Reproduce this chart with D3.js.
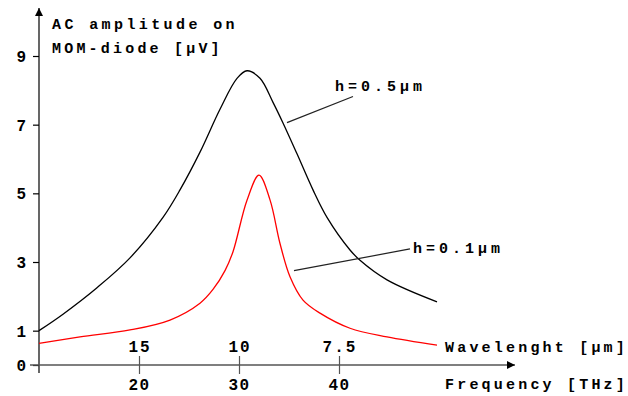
<!DOCTYPE html>
<html>
<head>
<meta charset="utf-8">
<script src="https://cdn.jsdelivr.net/npm/d3@7"></script>
<style>
	body { margin: 0; background: #fff; }
	svg text { font-family: "Liberation Mono", "Courier New", monospace; font-weight: bold; fill: #000; }
</style>
</head>
<body>
<svg id="chart"></svg>
<script>
// frequency [THz] and amplitude [uV]
var freqH05 = [10, 12.4, 15.8, 19.1, 22.4, 24.1, 26.1, 28.1, 29.8, 30.8, 32.1, 33.4, 34.4, 35.8, 37.4, 38.8, 41.1, 42.1, 44.8, 49.8];
var ampH05  = [1.0, 1.48, 2.25, 3.12, 4.3, 5.1, 6.2, 7.45, 8.35, 8.57, 8.35, 7.65, 7.05, 6.15, 5.1, 4.3, 3.35, 3.05, 2.48, 1.84];

var freqH01 = [10, 14.1, 19.1, 23.1, 26.1, 27.4, 28.6, 29.4, 30.8, 32.0, 33.1, 34.1, 35.1, 36.4, 38.1, 41.1, 44.8, 49.8];
var ampH01  = [0.63, 0.82, 1.02, 1.31, 1.8, 2.2, 2.75, 3.3, 4.8, 5.53, 4.81, 3.54, 2.57, 1.89, 1.51, 1.07, 0.82, 0.58];

var yTicks = [0, 1, 3, 5, 7, 9];
var freqTicks = [20, 30, 40];
var waveTicks = ["15", "10", "7.5"];

var labels = [
	{text: "h=0.5\u00b5m", tx: 39.6, ty: 7.98, x1: 41.4, y1: 7.82, x2: 34.8, y2: 7.06},
	{text: "h=0.1\u00b5m", tx: 47.4, ty: 3.26, x1: 47.1, y1: 3.38, x2: 35.5, y2: 2.75}
];

function Chart(){
	this.width = 628;
	this.height = 396;
	this.draw();
}

Chart.prototype.draw = function(){
	var width = this.width,
		height = this.height;

	var svg = d3.select("#chart")
		.attr("width", width)
		.attr("height", height);

	var x = d3.scaleLinear().domain([10, 57.6]).range([39, 515]);
	var y = d3.scaleLinear().domain([0, 9]).range([365, 56]);

	// arrow heads
	var defs = svg.append("defs");
	defs.append("marker")
		.attr("id", "arrow")
		.attr("viewBox", "0 0 10 10")
		.attr("refX", 10).attr("refY", 5)
		.attr("markerWidth", 10).attr("markerHeight", 8)
		.attr("markerUnits", "userSpaceOnUse")
		.attr("orient", "auto")
		.append("path")
			.attr("d", "M0,0 L10,5 L0,10 Z")
			.attr("fill", "#000");

	// y axis
	svg.append("line")
		.attr("x1", x(10)).attr("y1", y(0) + 8)
		.attr("x2", x(10)).attr("y2", 8)
		.attr("stroke", "#000").attr("stroke-width", 1.2)
		.attr("marker-end", "url(#arrow)");

	var yAxis = svg.append("g")
		.attr("transform", "translate(" + x(10) + ",0)")
		.call(d3.axisLeft(y).tickValues(yTicks).tickSize(6).tickFormat(d3.format("d")));
	yAxis.select(".domain").remove();
	yAxis.selectAll(".tick line").attr("stroke", "#000").attr("stroke-width", 1.2);
	yAxis.selectAll(".tick text")
		.attr("x", -13)
		.attr("dy", "0.35em")
		.style("font-size", "16px");

	// x axis
	svg.append("line")
		.attr("x1", x(10) - 9).attr("y1", y(0))
		.attr("x2", x(57.6)).attr("y2", y(0))
		.attr("stroke", "#555").attr("stroke-width", 1.5)
		.attr("marker-end", "url(#arrow)");

	var xAxis = svg.append("g")
		.attr("transform", "translate(0," + y(0) + ")")
		.call(d3.axisBottom(x).tickValues(freqTicks).tickSize(9).tickPadding(4));
	xAxis.select(".domain").remove();
	xAxis.selectAll(".tick line").attr("stroke", "#555").attr("stroke-width", 1.2).attr("y1", -9);
	xAxis.selectAll(".tick text")
		.style("font-size", "16px")
		.style("letter-spacing", "1.5px")
		.attr("dy", "0.72em");

	// wavelength labels above the axis
	svg.append("g")
		.selectAll("text")
		.data(waveTicks)
		.enter()
			.append("text")
				.attr("x", function(d){ return x(300 / +d) + 1; })
				.attr("y", y(0) - 13)
				.attr("text-anchor", "middle")
				.style("font-size", "16px")
				.style("letter-spacing", "2px")
				.text(function(d){ return d; });

	svg.append("text")
		.attr("x", 445).attr("y", y(0) - 13)
		.style("font-size", "15px").style("letter-spacing", "3.2px")
		.text("Wavelenght [\u00b5m]");
	svg.append("text")
		.attr("x", 445).attr("y", y(0) + 24)
		.style("font-size", "15px").style("letter-spacing", "3.2px")
		.text("Frequency [THz]");

	// y title
	svg.append("text")
		.attr("x", 52).attr("y", 29)
		.style("font-size", "15px").style("letter-spacing", "3.4px")
		.text("AC amplitude on");
	svg.append("text")
		.attr("x", 52).attr("y", 53)
		.style("font-size", "15px").style("letter-spacing", "3.2px")
		.text("MOM-diode [\u00b5V]");

	// curves
	var line = d3.line()
		.x(function(d){ return x(d[0]); })
		.y(function(d){ return y(d[1]); })
		.curve(d3.curveCatmullRom.alpha(0.5));

	svg.append("path")
		.datum(d3.zip(freqH05, ampH05))
		.attr("d", line)
		.attr("fill", "none")
		.attr("stroke", "#000")
		.attr("stroke-width", 1.3);

	svg.append("path")
		.datum(d3.zip(freqH01, ampH01))
		.attr("d", line)
		.attr("fill", "none")
		.attr("stroke", "#ff0000")
		.attr("stroke-width", 1.3);

	// curve labels
	var ann = svg.append("g").selectAll("g").data(labels).enter().append("g");
	ann.append("line")
		.attr("x1", function(d){ return x(d.x1); })
		.attr("y1", function(d){ return y(d.y1); })
		.attr("x2", function(d){ return x(d.x2); })
		.attr("y2", function(d){ return y(d.y2); })
		.attr("stroke", "#222").attr("stroke-width", 1.2);
	ann.append("text")
		.attr("x", function(d){ return x(d.tx); })
		.attr("y", function(d){ return y(d.ty); })
		.style("font-size", "15px").style("letter-spacing", "4px")
		.text(function(d){ return d.text; });
};

new Chart();
</script>
</body>
</html>
